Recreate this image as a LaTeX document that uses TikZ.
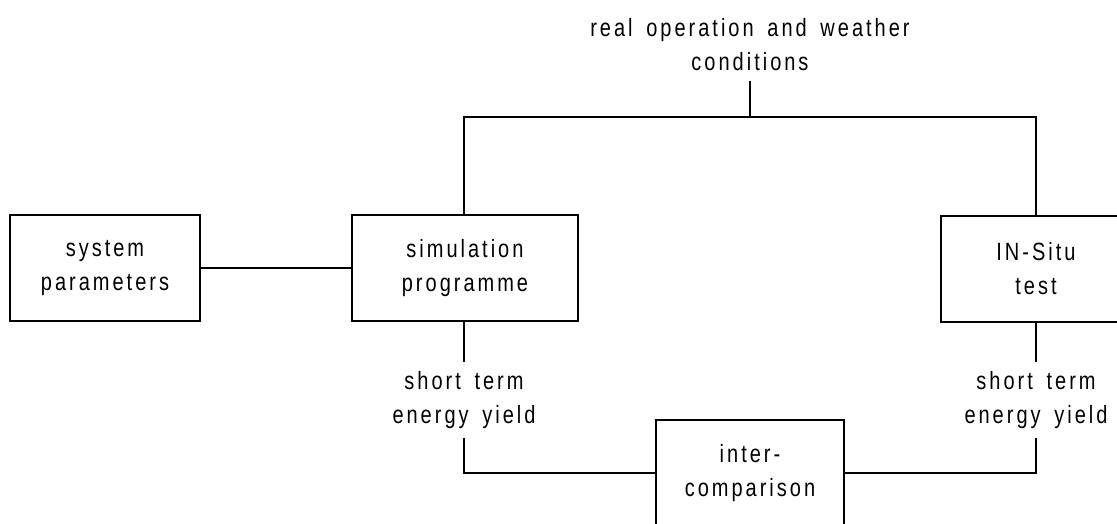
\documentclass[tikz,border=0pt]{standalone}
\usepackage{fontspec}
\setmainfont{Liberation Sans}[FakeStretch=0.8,LetterSpace=12,WordSpace=1.6]
\begin{document}
\begin{tikzpicture}[x=1pt,y=-1pt,
  line width=1.3pt,
  lbl/.style={font=\fontsize{25}{34}\selectfont, align=center, inner sep=0pt},
  blk/.style={lbl, draw, minimum height=106pt},
  tag/.style={lbl, minimum height=74pt}]
  \useasboundingbox (0,0) rectangle (1117,524);

  % blocks
  \node[blk, minimum width=190pt] (sys)   at (105,268) {system\\parameters};
  \node[blk, minimum width=226pt] (sim)   at (465,268) {simulation\\programme};
  \node[blk, minimum width=190pt] (situ)  at (1036,269) {IN-Situ\\test};
  \node[blk, minimum width=188pt] (inter) at (750,473) {inter-\\comparison};

  % labels on the connectors
  \node[lbl, minimum height=70pt] (cond) at (750,45) {real operation and weather\\conditions};
  \node[tag] (ysim)  at (464,400) {short term\\energy yield};
  \node[tag] (ysitu) at (1036,400) {short term\\energy yield};
  \coordinate (junc) at (750,117);

  % connectors
  \draw (sys.east) -- (sim.west);
  \draw (cond.south) -- (junc);
  \draw (ysim.north |- sim.north) |- (junc) -| (situ.north);
  \draw (ysim.north |- sim.south) -- (ysim.north);
  \draw (situ.south) -- (ysitu.north);
  \draw (ysim.south) |- (inter.west);
  \draw (ysitu.south) |- (inter.east);
\end{tikzpicture}
\end{document}
